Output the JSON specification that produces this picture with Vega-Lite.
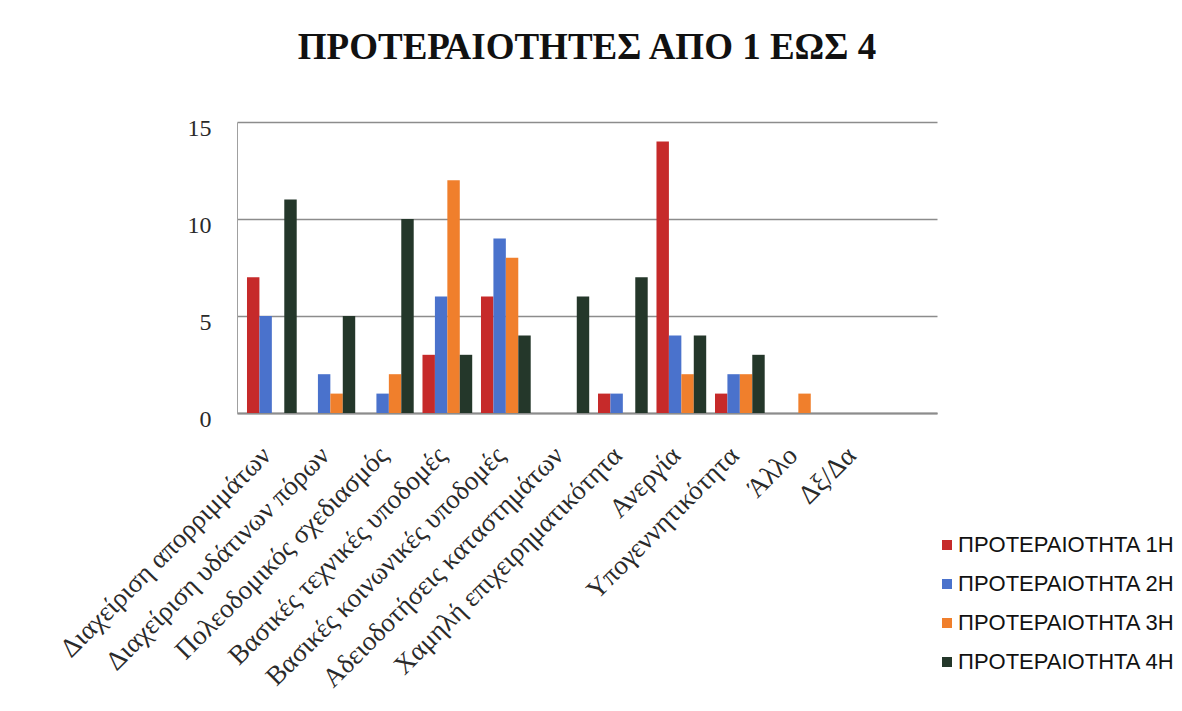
{
  "$schema": "https://vega.github.io/schema/vega-lite/v6.json",
  "width": 700,
  "height": 291,
  "autosize": {"type": "none"},
  "padding": {"left": 237, "top": 122, "right": 245, "bottom": 298},
  "background": "white",
  "title": {
    "text": "ΠΡΟΤΕΡΑΙΟΤΗΤΕΣ ΑΠΟ 1 ΕΩΣ 4",
    "font": "Liberation Serif",
    "fontSize": 37,
    "fontWeight": "bold",
    "color": "#111111",
    "anchor": "middle",
    "offset": 49
  },
  "config": {
    "view": {"stroke": null},
    "axis": {"labelFont": "Liberation Serif", "labelColor": "#2a2a2a"}
  },
  "data": {
    "values": [
      {"cat": "Διαχείριση απορριμμάτων", "p": "ΠΡΟΤΕΡΑΙΟΤΗΤΑ 1Η", "v": 7},
      {"cat": "Διαχείριση απορριμμάτων", "p": "ΠΡΟΤΕΡΑΙΟΤΗΤΑ 2Η", "v": 5},
      {"cat": "Διαχείριση απορριμμάτων", "p": "ΠΡΟΤΕΡΑΙΟΤΗΤΑ 3Η", "v": 0},
      {"cat": "Διαχείριση απορριμμάτων", "p": "ΠΡΟΤΕΡΑΙΟΤΗΤΑ 4Η", "v": 11},
      {"cat": "Διαχείριση υδάτινων πόρων", "p": "ΠΡΟΤΕΡΑΙΟΤΗΤΑ 1Η", "v": 0},
      {"cat": "Διαχείριση υδάτινων πόρων", "p": "ΠΡΟΤΕΡΑΙΟΤΗΤΑ 2Η", "v": 2},
      {"cat": "Διαχείριση υδάτινων πόρων", "p": "ΠΡΟΤΕΡΑΙΟΤΗΤΑ 3Η", "v": 1},
      {"cat": "Διαχείριση υδάτινων πόρων", "p": "ΠΡΟΤΕΡΑΙΟΤΗΤΑ 4Η", "v": 5},
      {"cat": "Πολεοδομικός σχεδιασμός", "p": "ΠΡΟΤΕΡΑΙΟΤΗΤΑ 1Η", "v": 0},
      {"cat": "Πολεοδομικός σχεδιασμός", "p": "ΠΡΟΤΕΡΑΙΟΤΗΤΑ 2Η", "v": 1},
      {"cat": "Πολεοδομικός σχεδιασμός", "p": "ΠΡΟΤΕΡΑΙΟΤΗΤΑ 3Η", "v": 2},
      {"cat": "Πολεοδομικός σχεδιασμός", "p": "ΠΡΟΤΕΡΑΙΟΤΗΤΑ 4Η", "v": 10},
      {"cat": "Βασικές τεχνικές υποδομές", "p": "ΠΡΟΤΕΡΑΙΟΤΗΤΑ 1Η", "v": 3},
      {"cat": "Βασικές τεχνικές υποδομές", "p": "ΠΡΟΤΕΡΑΙΟΤΗΤΑ 2Η", "v": 6},
      {"cat": "Βασικές τεχνικές υποδομές", "p": "ΠΡΟΤΕΡΑΙΟΤΗΤΑ 3Η", "v": 12},
      {"cat": "Βασικές τεχνικές υποδομές", "p": "ΠΡΟΤΕΡΑΙΟΤΗΤΑ 4Η", "v": 3},
      {"cat": "Βασικές κοινωνικές υποδομές", "p": "ΠΡΟΤΕΡΑΙΟΤΗΤΑ 1Η", "v": 6},
      {"cat": "Βασικές κοινωνικές υποδομές", "p": "ΠΡΟΤΕΡΑΙΟΤΗΤΑ 2Η", "v": 9},
      {"cat": "Βασικές κοινωνικές υποδομές", "p": "ΠΡΟΤΕΡΑΙΟΤΗΤΑ 3Η", "v": 8},
      {"cat": "Βασικές κοινωνικές υποδομές", "p": "ΠΡΟΤΕΡΑΙΟΤΗΤΑ 4Η", "v": 4},
      {"cat": "Αδειοδοτήσεις καταστημάτων", "p": "ΠΡΟΤΕΡΑΙΟΤΗΤΑ 1Η", "v": 0},
      {"cat": "Αδειοδοτήσεις καταστημάτων", "p": "ΠΡΟΤΕΡΑΙΟΤΗΤΑ 2Η", "v": 0},
      {"cat": "Αδειοδοτήσεις καταστημάτων", "p": "ΠΡΟΤΕΡΑΙΟΤΗΤΑ 3Η", "v": 0},
      {"cat": "Αδειοδοτήσεις καταστημάτων", "p": "ΠΡΟΤΕΡΑΙΟΤΗΤΑ 4Η", "v": 6},
      {"cat": "Χαμηλή επιχειρηματικότητα", "p": "ΠΡΟΤΕΡΑΙΟΤΗΤΑ 1Η", "v": 1},
      {"cat": "Χαμηλή επιχειρηματικότητα", "p": "ΠΡΟΤΕΡΑΙΟΤΗΤΑ 2Η", "v": 1},
      {"cat": "Χαμηλή επιχειρηματικότητα", "p": "ΠΡΟΤΕΡΑΙΟΤΗΤΑ 3Η", "v": 0},
      {"cat": "Χαμηλή επιχειρηματικότητα", "p": "ΠΡΟΤΕΡΑΙΟΤΗΤΑ 4Η", "v": 7},
      {"cat": "Ανεργία", "p": "ΠΡΟΤΕΡΑΙΟΤΗΤΑ 1Η", "v": 14},
      {"cat": "Ανεργία", "p": "ΠΡΟΤΕΡΑΙΟΤΗΤΑ 2Η", "v": 4},
      {"cat": "Ανεργία", "p": "ΠΡΟΤΕΡΑΙΟΤΗΤΑ 3Η", "v": 2},
      {"cat": "Ανεργία", "p": "ΠΡΟΤΕΡΑΙΟΤΗΤΑ 4Η", "v": 4},
      {"cat": "Υπογεννητικότητα", "p": "ΠΡΟΤΕΡΑΙΟΤΗΤΑ 1Η", "v": 1},
      {"cat": "Υπογεννητικότητα", "p": "ΠΡΟΤΕΡΑΙΟΤΗΤΑ 2Η", "v": 2},
      {"cat": "Υπογεννητικότητα", "p": "ΠΡΟΤΕΡΑΙΟΤΗΤΑ 3Η", "v": 2},
      {"cat": "Υπογεννητικότητα", "p": "ΠΡΟΤΕΡΑΙΟΤΗΤΑ 4Η", "v": 3},
      {"cat": "Άλλο", "p": "ΠΡΟΤΕΡΑΙΟΤΗΤΑ 1Η", "v": 0},
      {"cat": "Άλλο", "p": "ΠΡΟΤΕΡΑΙΟΤΗΤΑ 2Η", "v": 0},
      {"cat": "Άλλο", "p": "ΠΡΟΤΕΡΑΙΟΤΗΤΑ 3Η", "v": 1},
      {"cat": "Άλλο", "p": "ΠΡΟΤΕΡΑΙΟΤΗΤΑ 4Η", "v": 0},
      {"cat": "Δξ/Δα", "p": "ΠΡΟΤΕΡΑΙΟΤΗΤΑ 1Η", "v": 0},
      {"cat": "Δξ/Δα", "p": "ΠΡΟΤΕΡΑΙΟΤΗΤΑ 2Η", "v": 0},
      {"cat": "Δξ/Δα", "p": "ΠΡΟΤΕΡΑΙΟΤΗΤΑ 3Η", "v": 0},
      {"cat": "Δξ/Δα", "p": "ΠΡΟΤΕΡΑΙΟΤΗΤΑ 4Η", "v": 0}
    ]
  },
  "mark": {"type": "bar"},
  "encoding": {
    "x": {
      "field": "cat",
      "type": "nominal",
      "sort": null,
      "scale": {"paddingInner": 0.15, "paddingOuter": 0.558, "align": 0.153},
      "axis": {
        "title": null,
        "labelAngle": -45,
        "labelAlign": "right",
        "labelBaseline": "middle",
        "labelFontSize": 27,
        "labelPadding": 38,
        "labelOffset": -5,
        "ticks": false,
        "domainColor": "#8c8c8c",
        "domainWidth": 2,
        "labelLimit": 500
      }
    },
    "xOffset": {
      "field": "p",
      "type": "nominal",
      "sort": null,
      "scale": {"paddingInner": 0, "paddingOuter": 0}
    },
    "y": {
      "field": "v",
      "type": "quantitative",
      "scale": {"domain": [0, 15], "nice": false},
      "axis": {
        "title": null,
        "values": [0, 5, 10, 15],
        "labelFontSize": 24,
        "labelPadding": 26,
        "labelOffset": 6,
        "ticks": false,
        "grid": true,
        "gridColor": "#8c8c8c",
        "gridWidth": 1.5,
        "domainColor": "#a0a0a0",
        "domainWidth": 1
      }
    },
    "color": {
      "field": "p",
      "type": "nominal",
      "sort": null,
      "scale": {
        "domain": ["ΠΡΟΤΕΡΑΙΟΤΗΤΑ 1Η", "ΠΡΟΤΕΡΑΙΟΤΗΤΑ 2Η", "ΠΡΟΤΕΡΑΙΟΤΗΤΑ 3Η", "ΠΡΟΤΕΡΑΙΟΤΗΤΑ 4Η"],
        "range": ["#c62a2a", "#4a72cc", "#f07f2c", "#24372a"]
      },
      "legend": {
        "title": null,
        "orient": "none",
        "legendX": 699,
        "legendY": 412,
        "symbolType": "square",
        "symbolSize": 100,
        "symbolStrokeWidth": 0,
        "labelFont": "Liberation Sans",
        "labelFontSize": 22,
        "labelColor": "#111111",
        "labelLimit": 300,
        "labelOffset": 0,
        "rowPadding": 17
      }
    }
  }
}
